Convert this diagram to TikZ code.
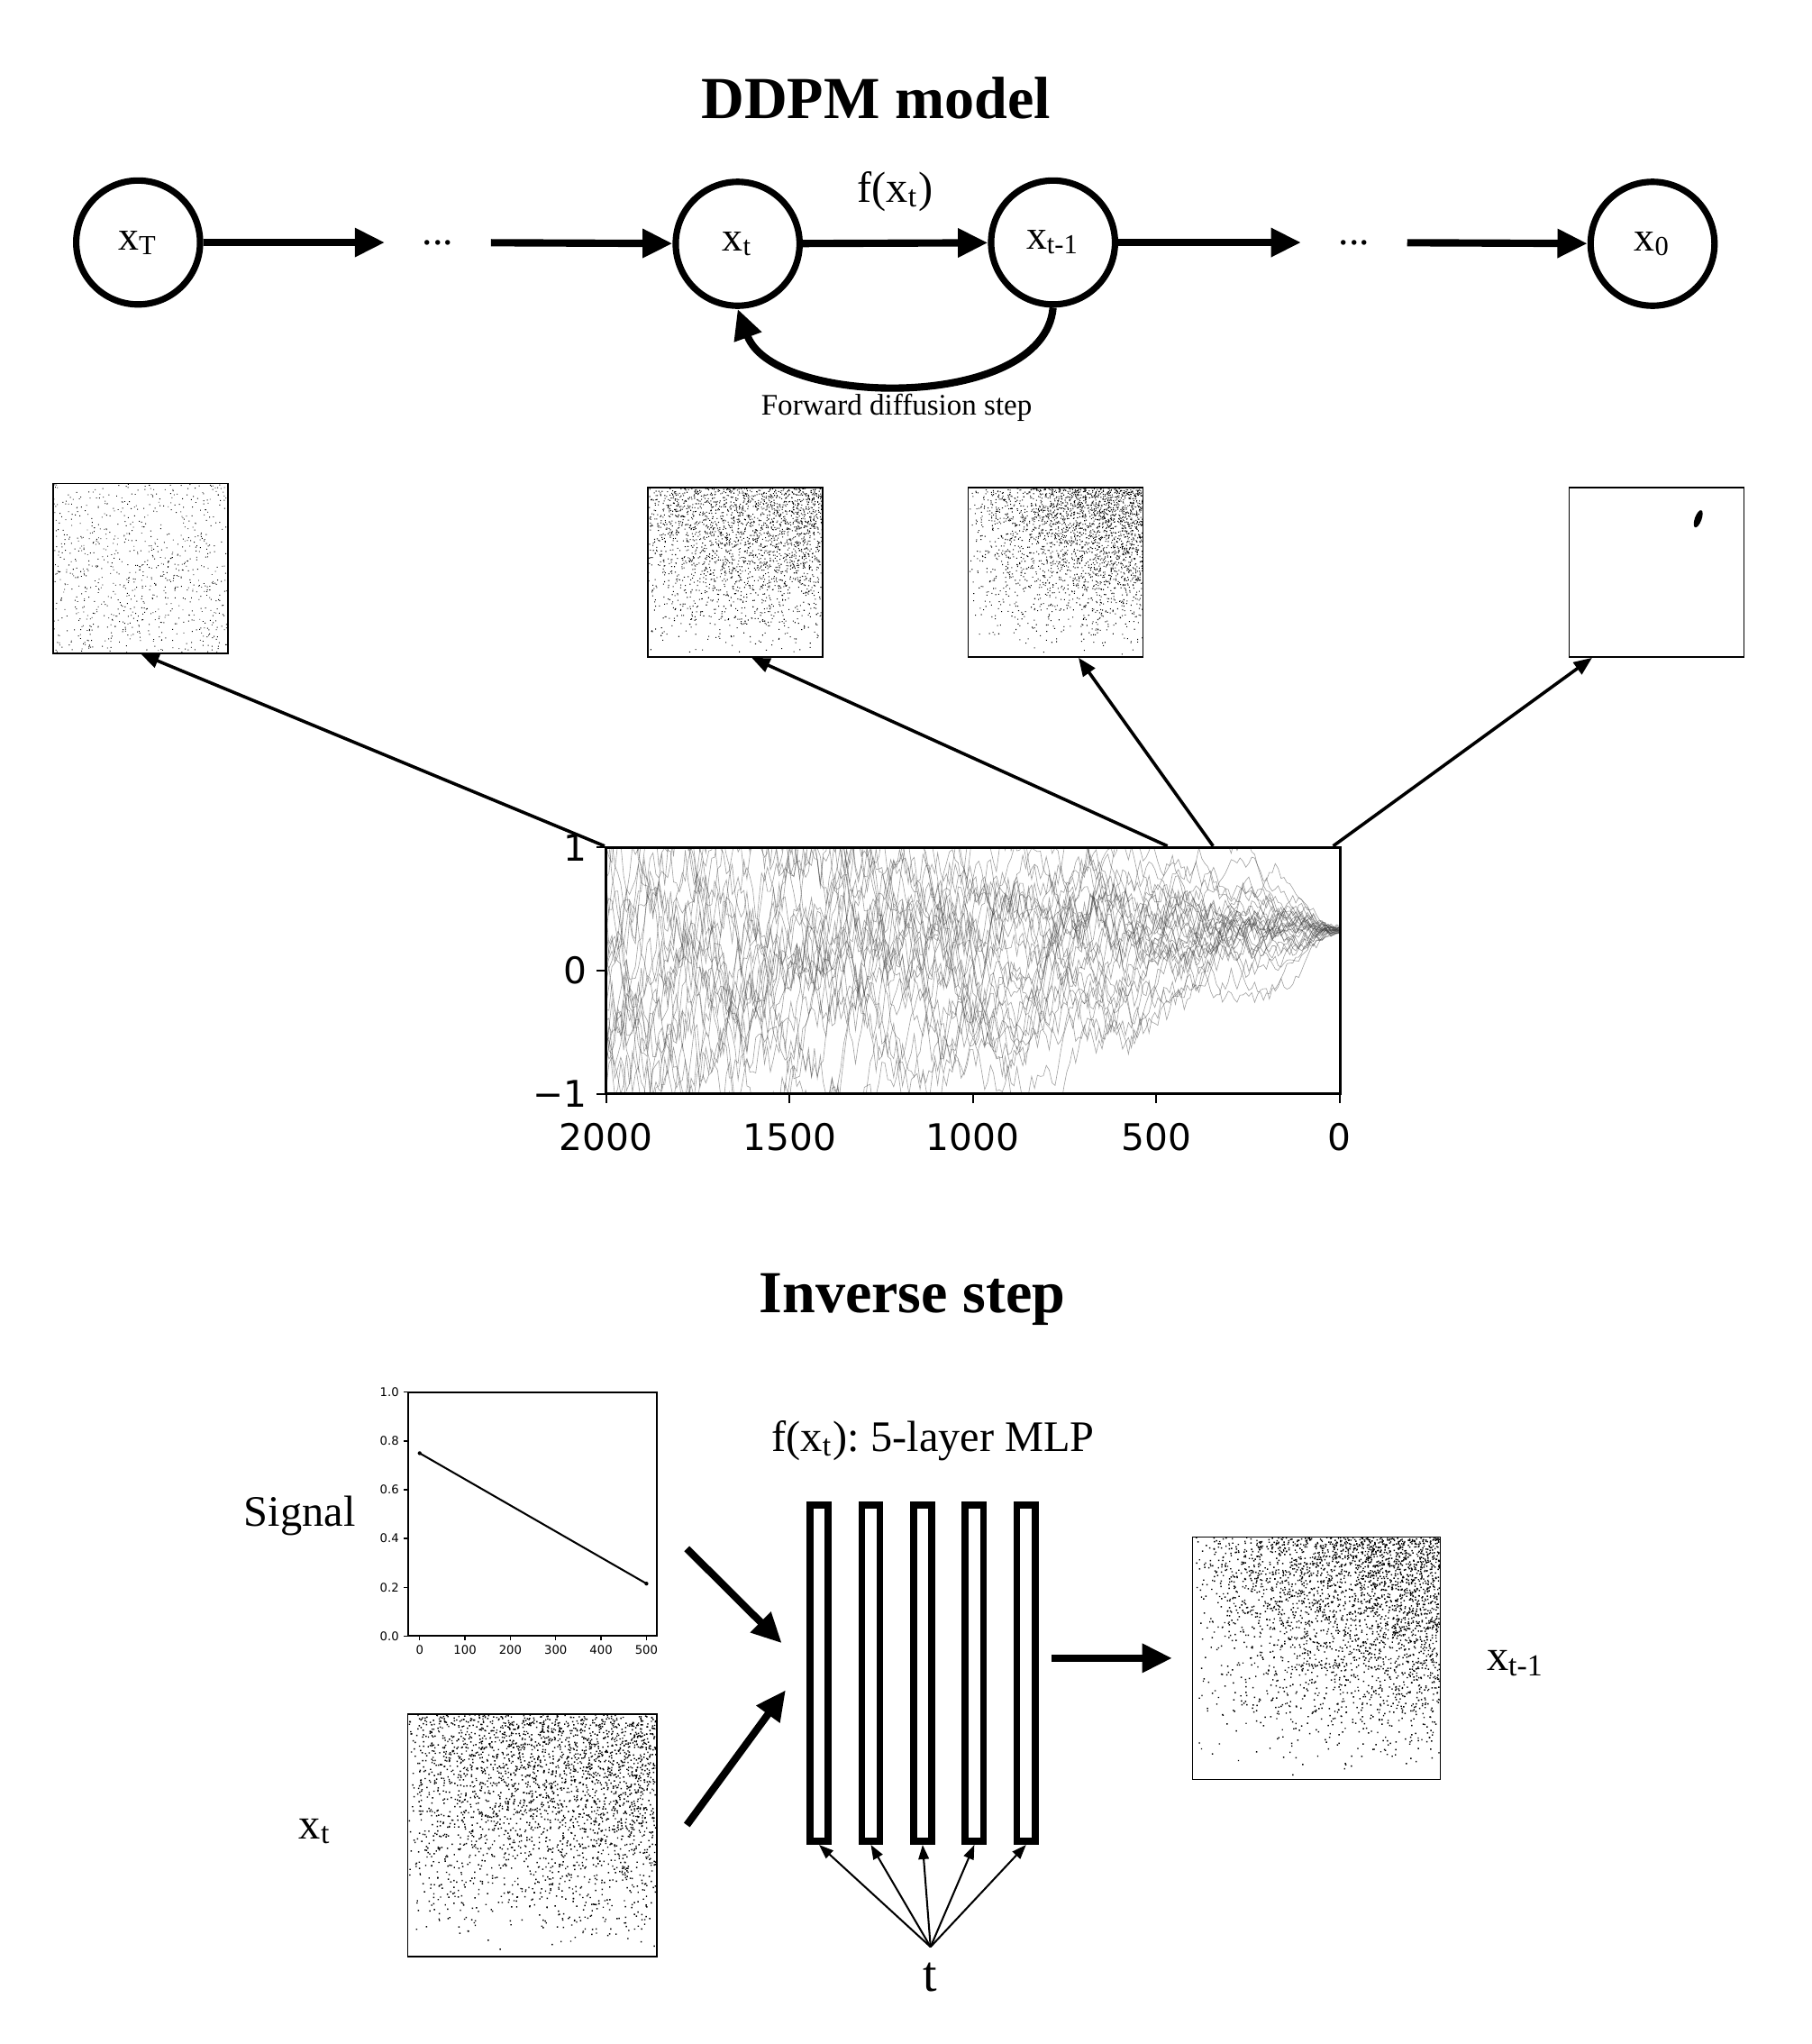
\documentclass[tikz,border=0pt]{standalone}
\usepackage{fontspec}
\setmainfont{Liberation Serif}
\newfontfamily\plotfont{DejaVu Sans}
\usetikzlibrary{arrows.meta, positioning, calc}

% cloud of noise dots: centre x, centre y, width, height, count (x100), x exponent, y exponent, dot size
\newcommand{\noisedots}[8]{%
  \foreach \c in {1,...,#5}{%
    \fill \foreach \k in {1,...,100}{
      ({#1-#3/2+(#3-#8)*rnd^#6},{#2+#4/2-#8-(#4-#8)*rnd^#7}) rectangle ++(#8,#8)
    };
  }}

\begin{document}
\begin{tikzpicture}[x=0.01cm, y=-0.01cm,
    stage/.style={circle, draw, line width=1.4pt, minimum size=0.95cm, inner sep=0pt, font=\fontsize{9}{10}\selectfont},
    gap/.style={minimum width=0.8cm, inner sep=0pt, font=\fontsize{9}{10}\selectfont},
    thumb/.style={rectangle, draw, line width=0.3pt, inner sep=0pt, minimum width=1.34cm, minimum height=1.30cm},
    mlplayer/.style={rectangle, draw, line width=1.5pt, minimum width=0.14cm, minimum height=2.58cm, inner sep=0pt},
    heading/.style={font=\fontsize{13}{15}\selectfont\bfseries},
    lbl/.style={font=\fontsize{9.5}{11}\selectfont},
    ticklab/.style={font=\plotfont\fontsize{8}{9}\selectfont, inner sep=2pt},
    tinylab/.style={font=\plotfont\fontsize{2.6}{3}\selectfont, inner sep=1pt},
    axtick/.style={line width=0.4pt},
    flow/.style={-{Triangle[length=0.23cm, width=0.21cm]}, line width=1.6pt},
    link/.style={-{Triangle[length=0.14cm, width=0.11cm]}, line width=0.7pt},
    tlink/.style={-{Triangle[length=0.11cm, width=0.08cm]}, line width=0.4pt},
    walk/.style={black!75, line width=0.12pt, opacity=0.5}
]
\useasboundingbox (0,0) rectangle (1390,1568);
\pgfmathsetseed{11}

% Title
\node[heading] (ddpm) at (672,75) {DDPM model};

% Chain of states
\node[stage] (xT) at (106,186) {x\textsubscript{T}};
\node[gap] (dotsA) at (336,186) {...};
\node[stage] (xt) at (566,187) {x\textsubscript{t}};
\node[stage] (xtm) at (808,186) {x\textsubscript{t-1}};
\node[gap] (dotsB) at (1039,186) {...};
\node[stage] (x0) at (1268,187) {x\textsubscript{0}};

% Arrows of the chain
\draw[flow] (xT) -- (dotsA);
\draw[flow] (dotsA) -- (xt);
\draw[flow] (xt) -- node[lbl, above=0.1cm] {f(x\textsubscript{t})} (xtm);
\draw[flow] (xtm) -- (dotsB);
\draw[flow] (dotsB) -- (x0);
\draw[flow, looseness=0.85] (xtm.south) to[out=-95, in=-70] (xt.south);
\node[font=\fontsize{6.5}{8}\selectfont] (fwd) at (688,313) {Forward diffusion step};

% Snapshots of the samples
\node[thumb] (imgT) at (108,436) {};
\node[thumb] (imgt) at (564,439) {};
\node[thumb] (imgtm) at (810,439) {};
\node[thumb] (img0) at (1271,439) {};
\noisedots{108}{436}{134}{130}{9}{1}{1}{0.65}
\noisedots{564}{439}{134}{130}{25}{0.8}{0.5}{0.72}
\noisedots{810}{439}{134}{130}{27}{0.6}{0.45}{0.72}
\fill[rotate around={-20:(1303,398)}] (1303,398) ellipse (2.6 and 7);

% Trajectories
\begin{scope}
  \clip (465,650) rectangle (1028,839);
  \foreach \w in {1,...,30}{
    \pgfmathsetmacro\yy{0.33+0.03*rand}
    \xdef\walky{\yy}
    \pgfmathsetmacro\py{744.5-94.5*\yy}
    \xdef\walkpts{(1028,\py)}
    \foreach \i in {1,...,250}{
      \pgfmathsetmacro\bt{0.00011*\i}
      \pgfmathsetmacro\ny{sqrt(1-\bt)*\walky+1.732*sqrt(\bt)*rand}
      \xdef\walky{\ny}
      \pgfmathsetmacro\nx{1028-2.252*\i}
      \pgfmathsetmacro\py{744.5-94.5*\ny}
      \xdef\walkpts{\walkpts (\nx,\py)}
    }
    \draw[walk] plot coordinates {\walkpts};
  }
\end{scope}
\node[draw, line width=0.55pt, minimum width=5.63cm, minimum height=1.89cm, inner sep=0pt] (traj) at (746.5,744.5) {};
\foreach \v/\lab in {650/1, 744.5/0, 839/−1}{
  \draw[axtick] (465,\v) -- ++(-7,0) node[left, ticklab] {\lab};
}
\foreach \u/\lab in {465/2000, 605.75/1500, 746.5/1000, 887.25/500, 1028/0}{
  \draw[axtick] (\u,839) -- ++(0,7) node[below, ticklab, inner sep=4.3pt] {\lab};
}

% Links from the plot to the snapshots
\coordinate (tA) at ($(traj.north west)!0.764!(traj.north east)$);
\coordinate (tB) at ($(traj.north west)!0.826!(traj.north east)$);
\coordinate (tC) at ($(traj.north west)!0.989!(traj.north east)$);
\draw[link] (traj.north west) -- (imgT.south);
\draw[link] (tA) -- (imgt.-79);
\draw[link] (tB) -- (imgtm.-75);
\draw[link] (tC) -- (img0.-127);

% Inverse step
\node[heading] (inv) at (700,997) {Inverse step};

% Signal plot
\draw (322,1114.75) -- (496,1214.8);
\fill (322,1114.75) circle (1.5) (496,1214.8) circle (1.5);
\node[draw, line width=0.35pt, minimum width=1.91cm, minimum height=1.87cm, inner sep=0pt] (sig) at (408.5,1161.5) {};
\foreach \v/\lab in {0/0.0, 1/0.2, 2/0.4, 3/0.6, 4/0.8, 5/1.0}{
  \draw[line width=0.25pt] (313,1255-37.4*\v) -- ++(-3,0) node[left, tinylab] {\lab};
}
\foreach \u/\lab in {0/0, 1/100, 2/200, 3/300, 4/400, 5/500}{
  \draw[line width=0.25pt] (322+34.8*\u,1255) -- ++(0,3) node[below, tinylab] {\lab};
}
\node[lbl] (siglbl) at (230,1163) {Signal};

% Noisy input and output
\node[thumb, minimum width=1.91cm, minimum height=1.86cm] (inxt) at (408.5,1408) {};
\noisedots{408.5}{1408}{191}{186}{30}{0.8}{0.5}{1.0}
\node[lbl] (inlbl) at (242,1405) {x\textsubscript{t}};
\node[thumb, minimum width=1.90cm, minimum height=1.86cm] (outxt) at (1010,1272) {};
\noisedots{1010}{1272}{190}{186}{32}{0.6}{0.45}{1.0}
\node[lbl] (outlbl) at (1163,1276) {x\textsubscript{t-1}};

% MLP layers
\foreach \i in {1,...,5}{
  \node[mlplayer] (bar\i) at ({628.5+39.7*(\i-1)},1283.5) {};
}
\node[lbl] (mlplbl) at (716,1105) {f(x\textsubscript{t}):\ 5-layer MLP};
\node[font=\fontsize{11}{12}\selectfont] (tin) at (714,1517) {t};

% Arrows
\coordinate (sigout) at (527,1188);
\coordinate (xtout) at (527,1400);
\draw[flow] (sigout) -- ($(bar1.west)+(-19,-23)$);
\draw[flow] (xtout) -- ($(bar1.west)+(-16,13)$);
\draw[flow, shorten <=0.1cm, shorten >=0.15cm] (bar5.east |- outxt.west) -- (outxt.west);
\foreach \i in {1,...,5}{
  \draw[tlink] (tin.north) -- (bar\i.south);
}

\end{tikzpicture}
\end{document}
